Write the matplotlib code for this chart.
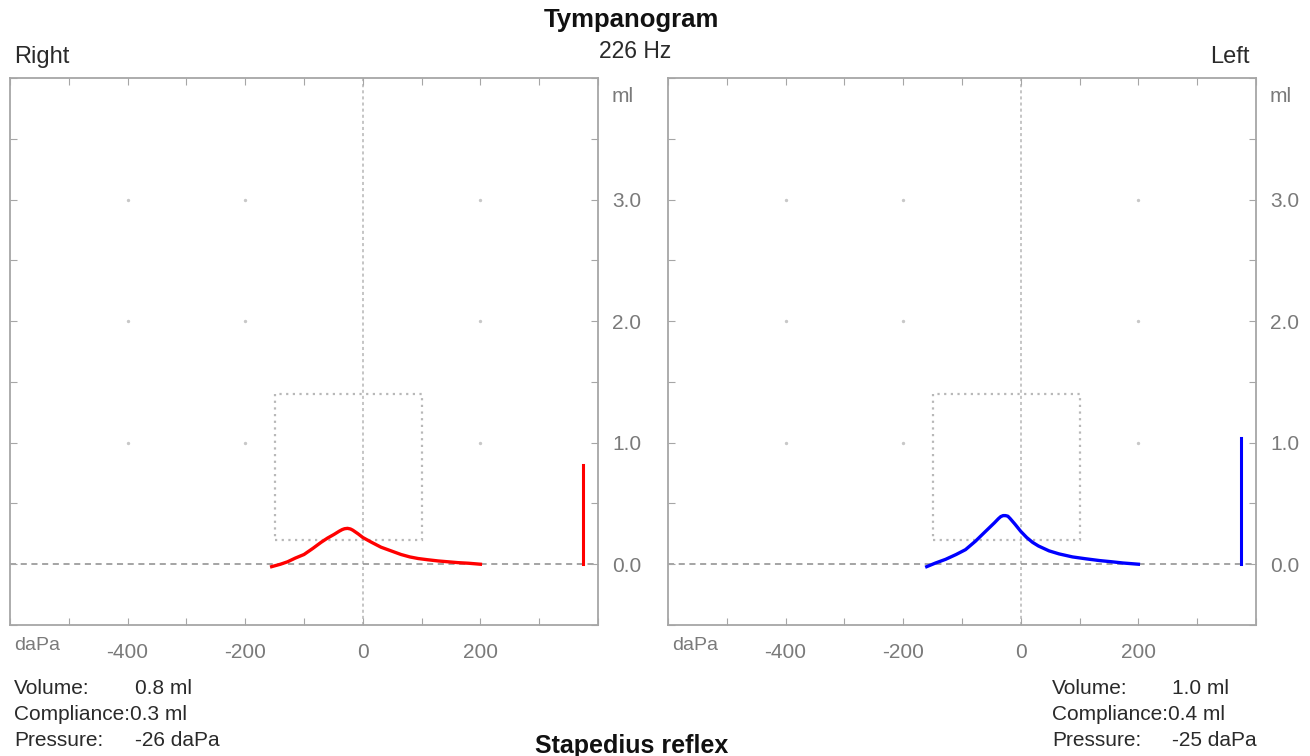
import matplotlib
matplotlib.use('Agg')
import matplotlib.pyplot as plt
from matplotlib.patches import Rectangle
from matplotlib.ticker import MultipleLocator, FuncFormatter

plt.rcParams['font.family'] = ['Liberation Sans', 'DejaVu Sans']

# tympanogram traces (pressure daPa, compliance ml)
right_p = [-155, -140, -128, -115, -100, -85, -71, -60, -49, -40, -35, -31, -26, -21, -17, -8,
           0, 15, 31, 48, 65, 80, 94, 110, 128, 145, 162, 180, 200]
right_c = [-0.02, 0.0, 0.02, 0.05, 0.08, 0.13, 0.18, 0.215, 0.245, 0.272, 0.285, 0.292, 0.295,
           0.29, 0.28, 0.25, 0.22, 0.18, 0.14, 0.11, 0.08, 0.06, 0.047, 0.037, 0.027, 0.02,
           0.013, 0.008, 0.0]
left_p = [-160, -145, -128, -110, -94, -77, -60, -45, -38, -34, -30, -26, -22, -18, -10, 0,
          10, 20, 30, 48, 65, 88, 110, 134, 155, 174, 200]
left_c = [-0.02, 0.01, 0.04, 0.08, 0.12, 0.19, 0.27, 0.34, 0.375, 0.392, 0.40, 0.40, 0.395,
          0.375, 0.33, 0.27, 0.22, 0.18, 0.15, 0.11, 0.085, 0.06, 0.045, 0.03, 0.02, 0.01, 0.0]

# ear canal volume bars
bar_pos = 375
right_volume_bar = 0.82
left_volume_bar = 1.04

# results
right_results = ['0.8 ml', '0.3 ml', '-26 daPa']
left_results = ['1.0 ml', '0.4 ml', '-25 daPa']

# normal region box
box_p = [-150, 100]
box_c = [0.2, 1.4]

W, H = 1310, 756
fig = plt.figure(figsize=(W / 100, H / 100), dpi=100)


def fx(x):
    return x / W


def fy(y):
    return 1 - y / H


GRAY = '#a6a6a6'
TXT_GRAY = '#7a7a7a'
DARK = '#2a2a2a'


def tick_fmt_x(v, pos):
    if abs(v) < 1e-6:
        return '0'
    if v % 200 == 0 and -400 <= v <= 200:
        return '%d' % v
    return ''


def tick_fmt_y(v, pos):
    if abs(v - round(v)) < 1e-6 and 0 <= v <= 3:
        return '%.1f' % v
    return ''


def draw_panel(left_px, p, c, color, bar_h):
    ax = fig.add_axes([fx(left_px), fy(625), 588 / W, (625 - 78) / H])
    ax.set_xlim(-600, 400)
    ax.set_ylim(-0.5, 4.0)
    for s in ax.spines.values():
        s.set_color(GRAY)
        s.set_linewidth(1.3)
    ax.xaxis.set_major_locator(MultipleLocator(100))
    ax.yaxis.set_major_locator(MultipleLocator(0.5))
    ax.xaxis.set_major_formatter(FuncFormatter(tick_fmt_x))
    ax.yaxis.set_major_formatter(FuncFormatter(tick_fmt_y))
    ax.tick_params(axis='x', direction='in', top=True, bottom=True, length=5,
                   color=GRAY, labelsize=15, labelcolor=TXT_GRAY, pad=13)
    ax.tick_params(axis='y', direction='in', left=True, right=True, length=5,
                   color=GRAY, labelleft=False, labelright=True,
                   labelsize=15, labelcolor=TXT_GRAY, pad=10)

    # reference lines
    ax.axvline(0, color='#b5b5b5', lw=1.1, ls=(0, (2, 2)), zorder=1)
    ax.axhline(0, color='#8c8c8c', lw=1.1, ls=(0, (4, 3)), zorder=1)
    gx = [-400, -200, 200] * 3
    gy = [1] * 3 + [2] * 3 + [3] * 3
    ax.scatter(gx, gy, s=2, color='#c8c8c8', zorder=1)
    ax.add_patch(Rectangle((box_p[0], box_c[0]), box_p[1] - box_p[0], box_c[1] - box_c[0],
                           fill=False, ec='#b8b8b8', lw=1.6, ls=(0, (1, 2)), zorder=1))

    ax.plot(p, c, color=color, lw=2.4, zorder=3, solid_joinstyle='round')
    ax.plot([bar_pos, bar_pos], [0, bar_h], color=color, lw=2.2, zorder=3)
    return ax


draw_panel(10, right_p, right_c, '#ff0000', right_volume_bar)
draw_panel(668, left_p, left_c, '#0000ff', left_volume_bar)

# headers
fig.text(fx(631), fy(20), 'Tympanogram', ha='center', va='center', fontsize=18.5,
         fontweight='bold', color='#111111')
fig.text(fx(635), fy(52), '226 Hz', ha='center', va='center', fontsize=16.5, color=DARK)
fig.text(fx(14), fy(57), 'Right', ha='left', va='center', fontsize=17, color=DARK)
fig.text(fx(1250), fy(57), 'Left', ha='right', va='center', fontsize=17, color=DARK)

for x0 in (612, 1270):
    fig.text(fx(x0), fy(96), 'ml', ha='left', va='center', fontsize=15, color=TXT_GRAY)
for x0 in (14, 672):
    fig.text(fx(x0), fy(646), 'daPa', ha='left', va='center', fontsize=14, color=TXT_GRAY)

# measurement results
rows_y = [689, 714, 740]
for lx, vx, res in ((14, 135, right_results), (1052, 1172, left_results)):
    fig.text(fx(lx), fy(rows_y[0]), 'Volume:', ha='left', va='center', fontsize=15, color=DARK)
    fig.text(fx(vx), fy(rows_y[0]), res[0], ha='left', va='center', fontsize=15, color=DARK)
    fig.text(fx(lx), fy(rows_y[1]), 'Compliance:' + res[1], ha='left', va='center',
             fontsize=15, color=DARK)
    fig.text(fx(lx), fy(rows_y[2]), 'Pressure:', ha='left', va='center', fontsize=15, color=DARK)
    fig.text(fx(vx), fy(rows_y[2]), res[2], ha='left', va='center', fontsize=15, color=DARK)

fig.text(fx(632), fy(746), 'Stapedius reflex', ha='center', va='center', fontsize=18,
         fontweight='bold', color='#111111')

fig.savefig('out.png', dpi=100)
